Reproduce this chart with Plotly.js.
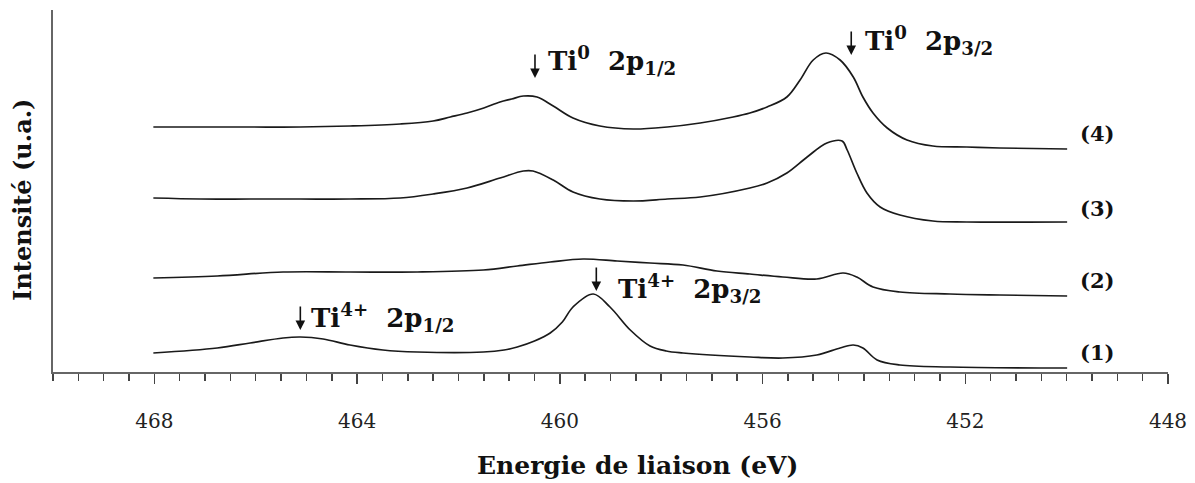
<!DOCTYPE html>
<html>
<head>
<meta charset="utf-8">
<script src="https://cdn.plot.ly/plotly-3.0.1.min.js"></script>
<style>html,body{margin:0;padding:0;background:#fff;}#chart{width:1195px;height:483px;}</style>
</head>
<body>
<div id="chart"></div>
<script>
// Binding energy (eV) and intensity (a.u., offset stacked)
var x4 = [468.02,467.09,466.11,465.12,464.14,463.15,462.50,462.16,461.83,461.50,461.18,460.95,460.72,460.45,460.13,459.74,459.21,458.55,457.88,457.23,456.58,456.25,455.91,455.52,455.26,455.00,454.75,454.47,454.21,454.02,453.82,453.54,453.15,452.64,451.97,451.32,449.99];
var y4 = [245,245,245,245,246,248,251,255,259,264,270,273,276,275,266,254,246,243,245,249,255,259,265,275,292,312,319,312,295,275,259,244,232,226,225,224,223];

var x3 = [468.02,467.09,466.11,465.12,464.14,463.15,462.50,461.83,461.18,460.72,460.53,460.13,459.74,459.21,458.55,457.88,457.23,456.25,455.91,455.52,455.12,454.73,454.43,454.33,454.14,453.94,453.68,453.29,452.64,451.97,449.99];
var y3 = [174,173,173,173,173,174,178,184,194,201,201,192,180,173,171,173,175,184,189,199,215,229,231,222,199,179,165,157,151,150,150];

var x2 = [468.02,466.76,465.46,464.14,462.81,461.51,460.84,460.19,459.54,458.87,458.22,457.57,456.90,456.25,455.60,454.93,454.41,454.14,453.82,453.29,452.30,451.32,449.99];
var y2 = [94,96,100,100,100,102,106,110,113,111,109,107,101,98,95,93,99,95,85,80,78,77,76];

var x1 = [468.02,466.76,466.11,465.46,465.12,464.67,464.14,463.49,462.81,461.51,461.10,460.84,460.50,460.19,459.95,459.74,459.34,459.01,458.61,458.22,457.90,457.57,456.25,455.60,454.93,454.47,454.21,454.02,453.74,453.29,452.30,449.99];
var y1 = [19,24,29,34,35,33,27,22,20,20,22,25,31,39,50,65,78,65,42,26,21,19,15,14,17,24,27,24,12,7,5,4];

var curveLabels = ["(1)","(2)","(3)","(4)"];
var labelX = 449.40;
var labelY = [20,92,164,239];

var peakNames = ["Ti<sup>0</sup>  2p<sub>1/2</sub>","Ti<sup>0</sup>  2p<sub>3/2</sub>","Ti<sup>4+</sup>  2p<sub>1/2</sub>","Ti<sup>4+</sup>  2p<sub>3/2</sub>"];
var peakArrowX = [460.49,454.25,465.12,459.28];
var peakArrowY = [294,317,42,81];
var peakTextX = [460.27,454.02,464.95,458.90];
var peakTextY = [312,332,55,84];

var xTitle = "Energie de liaison (eV)";
var yTitle = "Intensité (u.a.)";

var lineStyle = {color:'#1a1a1a', width:1.7, shape:'spline', smoothing:1.0};
var traces = [[x1,y1],[x2,y2],[x3,y3],[x4,y4]].map(function(p){
  return {x:p[0], y:p[1], mode:'lines', type:'scatter', line:lineStyle, hoverinfo:'skip'};
});

var serif = "DejaVu Serif, Liberation Serif, serif";
var ann = [];
for (var i=0;i<curveLabels.length;i++){
  ann.push({x:labelX, y:labelY[i], xref:'x', yref:'y', text:'<b>'+curveLabels[i]+'</b>', showarrow:false,
    font:{family:serif, size:21, color:'#111'}, xanchor:'center', yanchor:'middle'});
}
for (var j=0;j<peakNames.length;j++){
  ann.push({x:peakArrowX[j], y:peakArrowY[j], xref:'x', yref:'y', text:'', showarrow:true,
    ax:0, ay:-25, arrowhead:2, arrowsize:1.2, arrowwidth:1.6, arrowcolor:'#111'});
  ann.push({x:peakTextX[j], y:peakTextY[j], xref:'x', yref:'y', text:'<b>'+peakNames[j]+'</b>', showarrow:false,
    font:{family:serif, size:26, color:'#111'}, xanchor:'left', yanchor:'middle'});
}
ann.push({x:0.524, y:-0.257, xref:'paper', yref:'paper', text:'<b>'+xTitle+'</b>', showarrow:false,
  font:{family:serif, size:25, color:'#111'}, xanchor:'center', yanchor:'middle'});
ann.push({x:-0.028, y:0.475, xref:'paper', yref:'paper', text:'<b>'+yTitle+'</b>', showarrow:false, textangle:-90,
  font:{family:serif, size:24, color:'#111'}, xanchor:'center', yanchor:'middle'});

var layout = {
  width:1195, height:483,
  margin:{l:53, r:27, t:10, b:111},
  paper_bgcolor:'#fff', plot_bgcolor:'#fff',
  showlegend:false,
  xaxis:{
    range:[470,448], showgrid:false, zeroline:false,
    showline:true, linecolor:'#666', linewidth:2,
    ticks:'outside', ticklen:10, tickwidth:1.5, tickcolor:'#444',
    tick0:468, dtick:4, ticklabelstandoff:20,
    tickfont:{family:serif, size:20, color:'#222'},
    minor:{dtick:0.5, ticks:'outside', ticklen:7, tickwidth:1.5, tickcolor:'#444', showgrid:false}
  },
  yaxis:{
    range:[0,362], showgrid:false, zeroline:false, showticklabels:false, ticks:'',
    showline:true, linecolor:'#666', linewidth:2
  },
  annotations:ann
};

Plotly.newPlot('chart', traces, layout, {displayModeBar:false, staticPlot:true});
</script>
</body>
</html>
